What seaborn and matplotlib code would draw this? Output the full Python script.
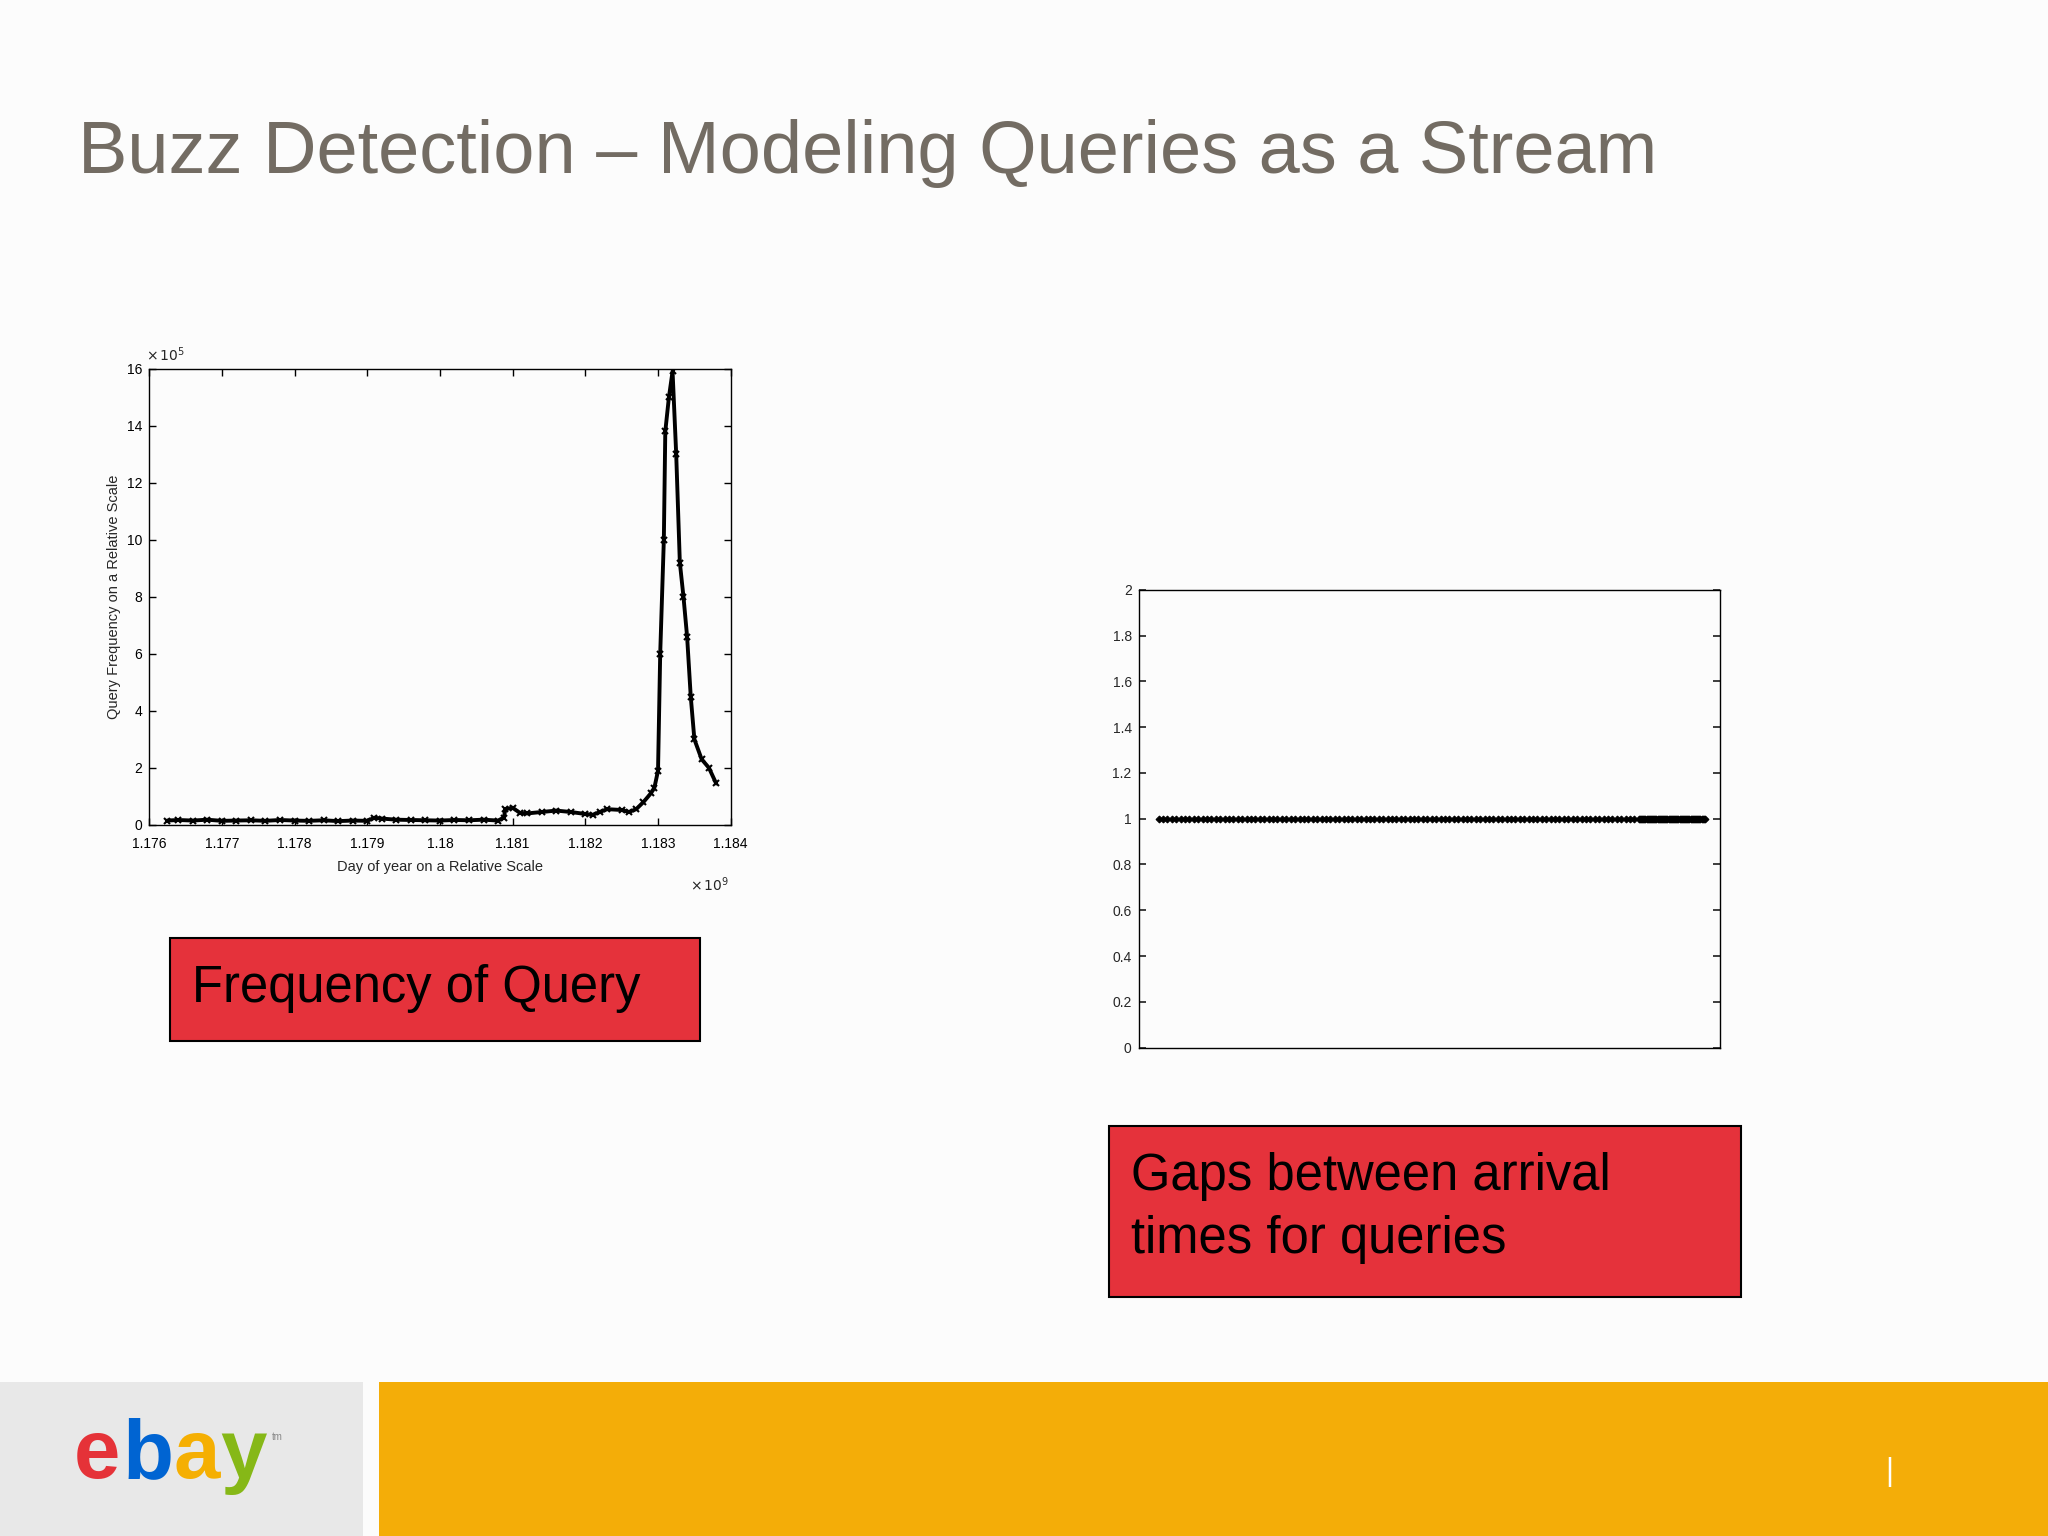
import numpy as np
import pandas as pd
import matplotlib
matplotlib.use("Agg")
import matplotlib.pyplot as plt
import seaborn as sns
from matplotlib.patches import Rectangle

# ---- data (left chart: x in 1e9, y in 1e5) ----
day = [1.17625, 1.1764, 1.1766, 1.1768, 1.1770, 1.1772, 1.1774, 1.1776, 1.1778, 1.1780,
       1.1782, 1.1784, 1.1786, 1.1788, 1.1790, 1.1791, 1.1792, 1.1794, 1.1796, 1.1798,
       1.1800, 1.1802, 1.1804, 1.1806, 1.1808, 1.18088, 1.1809, 1.1810, 1.1811, 1.1812,
       1.1814, 1.1816, 1.1818, 1.1820, 1.1821, 1.1822, 1.1823, 1.1825, 1.1826, 1.1827,
       1.1828, 1.1829, 1.18295, 1.1830, 1.18303, 1.18308, 1.1831, 1.18315, 1.1832, 1.18325,
       1.1833, 1.18335, 1.1834, 1.18345, 1.1835, 1.1836, 1.1837, 1.1838]
freq = [0.15, 0.17, 0.15, 0.18, 0.14, 0.15, 0.16, 0.14, 0.17, 0.15,
        0.14, 0.16, 0.13, 0.15, 0.14, 0.25, 0.22, 0.18, 0.17, 0.16,
        0.15, 0.17, 0.16, 0.18, 0.15, 0.25, 0.55, 0.6, 0.42, 0.40,
        0.45, 0.50, 0.45, 0.38, 0.35, 0.45, 0.55, 0.52, 0.45, 0.55,
        0.80, 1.10, 1.30, 1.90, 6.0, 10.0, 13.8, 15.0, 15.9, 13.0,
        9.2, 8.0, 6.6, 4.5, 3.0, 2.3, 2.0, 1.45]

# ---- data (right chart: gaps between arrivals) ----
arrival_sparse = list(range(1, 111))
arrival_dense = [110 + 0.25 * k for k in range(1, 61)]
arrival = arrival_sparse + arrival_dense
gap = [1.0] * len(arrival)

sns.set_theme(style="white")
plt.rcParams['font.family'] = ['Liberation Sans', 'DejaVu Sans']

bg = "#fcfcfc"
fig = plt.figure(figsize=(20.48, 15.36), dpi=100, facecolor=bg)

# title
fig.text(0.038, 0.900, "Buzz Detection – Modeling Queries as a Stream", fontsize=53.3,
         color="#736c63", va="center", ha="left")

# left chart
ax1 = fig.add_axes([0.0728, 0.463, 0.284, 0.297], facecolor=bg)
df1 = pd.DataFrame({"day": day, "freq": freq})
sns.lineplot(data=df1, x="day", y="freq", ax=ax1, color="black", lw=2.8,
             marker="x", markersize=5, markeredgewidth=1.5, markeredgecolor="black")
ax1.set_xlim(1.176, 1.184)
ax1.set_ylim(0, 16)
xt = [1.176, 1.177, 1.178, 1.179, 1.18, 1.181, 1.182, 1.183, 1.184]
ax1.set_xticks(xt)
ax1.set_xticklabels(["1.176", "1.177", "1.178", "1.179", "1.18", "1.181", "1.182", "1.183", "1.184"])
ax1.set_yticks(range(0, 17, 2))
ax1.tick_params(direction="in", length=5, width=1, labelsize=10, top=True, right=True,
                bottom=True, left=True, colors="black", pad=5)
ax1.tick_params(axis="x", pad=9)
ax1.set_xlabel("Day of year on a Relative Scale", fontsize=10.5, labelpad=6)
ax1.set_ylabel("Query Frequency on a Relative Scale", fontsize=10.5)
for s in ax1.spines.values():
    s.set_color("black"); s.set_linewidth(1)
ax1.text(-0.005, 1.01, r"$\times\,10^{5}$", transform=ax1.transAxes, fontsize=10, ha="left", va="bottom")
ax1.text(0.93, -0.11, r"$\times\,10^{9}$", transform=ax1.transAxes, fontsize=10, ha="left", va="top")

# right chart
ax2 = fig.add_axes([0.556, 0.318, 0.284, 0.298], facecolor=bg)
df2 = pd.DataFrame({"arrival": arrival, "gap": gap})
sns.lineplot(data=df2, x="arrival", y="gap", ax=ax2, color="black", lw=1,
             marker="D", markersize=3.5, markeredgecolor="black")
ax2.set_xlim(-3.5, 128.5)
ax2.set_ylim(0, 2)
ax2.set_yticks(np.round(np.arange(0, 2.01, 0.2), 1))
ax2.set_yticklabels(["0", "0.2", "0.4", "0.6", "0.8", "1", "1.2", "1.4", "1.6", "1.8", "2"])
ax2.set_xticks([])
ax2.tick_params(axis="y", direction="in", length=5, labelsize=10, left=True, right=True, pad=5)
ax2.set_xlabel(""); ax2.set_ylabel("")
for s in ax2.spines.values():
    s.set_color("black"); s.set_linewidth(1)

# red label boxes
red = "#e5323b"
W, H = 2048, 1536
def box(x0, y0, x1, y1, txt, ty):
    fig.patches.append(Rectangle((x0 / W, 1 - y1 / H), (x1 - x0) / W, (y1 - y0) / H,
                                 transform=fig.transFigure, facecolor=red,
                                 edgecolor="black", lw=1.5))
    fig.text((x0 + 22) / W, 1 - ty / H, txt, fontsize=36.5, color="black",
             va="top", ha="left", linespacing=1.38)
box(170, 938, 700, 1041, "Frequency of Query", 964)
box(1109, 1126, 1741, 1297, "Gaps between arrival\ntimes for queries", 1152)

# footer
fig.patches.append(Rectangle((0, 0), 363 / W, 154 / H, transform=fig.transFigure,
                             facecolor="#e8e8e8", edgecolor="none"))
fig.patches.append(Rectangle((379 / W, 0), 1, 154 / H, transform=fig.transFigure,
                             facecolor="#f4ad08", edgecolor="none"))
x0 = 74 / W
for ch, col, dx in [("e", "#e53238", 0), ("b", "#0064d2", 0.0235), ("a", "#f5af02", 0.0485), ("y", "#86b817", 0.0715)]:
    fig.text(x0 + dx, 1 - 1456 / H, ch, fontsize=60, color=col, va="center", ha="left",
             fontweight="bold")
fig.text(272 / W, 1 - 1440 / H, "tm", fontsize=7, color="#888888")
fig.text(1885 / W, 1 - 1480 / H, "|", fontsize=22, color="white")

fig.savefig("out.png", dpi=100, facecolor=bg)
